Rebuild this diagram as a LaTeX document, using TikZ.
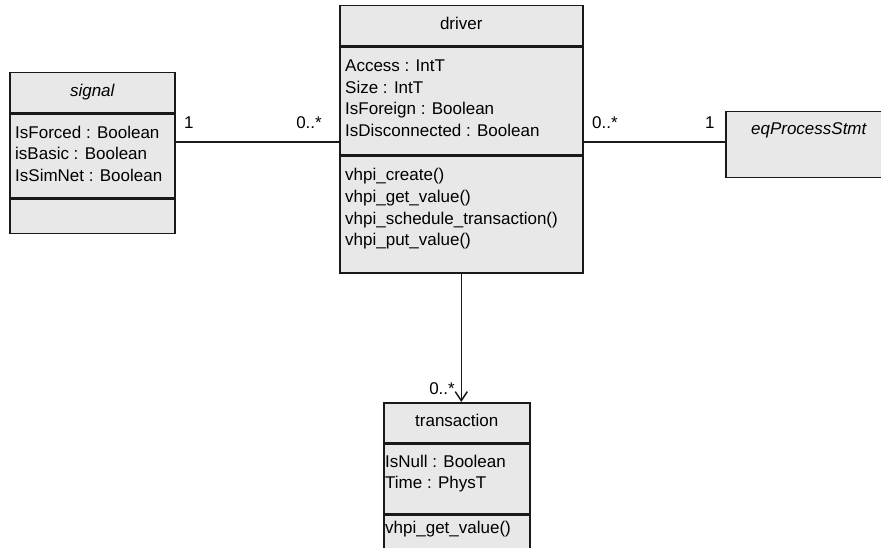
\documentclass[tikz,border=0pt]{standalone}
\usepackage{fontspec}
\setmainfont{Liberation Sans}
\usetikzlibrary{arrows.meta}

\definecolor{umlgray}{RGB}{232,232,232}
\definecolor{umlline}{RGB}{25,25,25}
\newcommand\umlfont{\fontsize{17}{21.8}\selectfont}

\begin{document}
\begin{tikzpicture}[x=1pt, y=-1pt,
    classpart/.style={draw=umlline, fill=umlgray, line width=1.5pt, anchor=north west, inner sep=0pt},
    classname/.style={inner sep=0pt, text height=12pt, text depth=4pt, font=\umlfont},
    members/.style={anchor=north west, inner sep=0pt, align=left, font=\umlfont},
    mult/.style={inner sep=0pt, font=\umlfont},
    assoc/.style={draw=umlline, line width=1.5pt}]
  \fill[white] (0,0) rectangle (881,548);
  \useasboundingbox (0,0) rectangle (881,548);
  \clip (0,0) rectangle (881,548);

  % class signal
  \node[classpart, minimum width=165pt, minimum height=40pt] (sighead) at (9,72) {};
  \node[classpart, minimum width=165pt, minimum height=84pt] (sigattr) at (sighead.south west) {};
  \node[classpart, minimum width=165pt, minimum height=34pt] (sigmeth) at (sigattr.south west) {};
  \node[classname] (signame) at (sighead) {\itshape signal};
  \node[members] (sigattrtxt) at ([shift={(6pt,-12pt)}]sigattr.north west)
    {IsForced : Boolean\\isBasic : Boolean\\IsSimNet : Boolean};

  % class driver
  \node[classpart, minimum width=243pt, minimum height=40pt] (drvhead) at (339,5) {};
  \node[classpart, minimum width=243pt, minimum height=108pt] (drvattr) at (drvhead.south west) {};
  \node[classpart, minimum width=243pt, minimum height=116pt] (drvmeth) at (drvattr.south west) {};
  \node[classname] (drvname) at (drvhead) {driver};
  \node[members] (drvattrtxt) at ([shift={(6pt,-13pt)}]drvattr.north west)
    {Access : IntT\\Size : IntT\\IsForeign : Boolean\\IsDisconnected : Boolean};
  \node[members] (drvmethtxt) at ([shift={(6pt,-12pt)}]drvmeth.north west)
    {vhpi\_create()\\vhpi\_get\_value()\\vhpi\_schedule\_transaction()\\vhpi\_put\_value()};

  % class eqProcessStmt
  \node[classpart, minimum width=166pt, minimum height=66pt] (eqbox) at (725,111) {};
  \node[classname] (eqname) at ([yshift=-20pt]eqbox.north) {\itshape eqProcessStmt};

  % class transaction
  \node[classpart, minimum width=146pt, minimum height=40pt] (trhead) at (383,402) {};
  \node[classpart, minimum width=146pt, minimum height=69pt] (trattr) at (trhead.south west) {};
  \node[classpart, minimum width=146pt, minimum height=60pt] (trmeth) at (trattr.south west) {};
  \node[classname] (trname) at (trhead) {transaction};
  \node[members] (trattrtxt) at ([shift={(2pt,-11pt)}]trattr.north west)
    {IsNull : Boolean\\Time : PhysT};
  \node[members] (trmethtxt) at ([shift={(2pt,-7pt)}]trmeth.north west)
    {vhpi\_get\_value()};

  % associations
  \draw[assoc] (sigattr.east |- 0,142) -- (drvattr.west |- 0,142);
  \draw[assoc] (drvattr.east |- 0,142) -- (eqbox.west |- 0,142);
  \draw[assoc, -{Straight Barb[length=9pt, width=12pt]}] (drvmeth.south) -- (drvmeth.south |- trhead.north);

  % multiplicities
  \node[mult, anchor=base west] (sigmult) at (184,129) {1};
  \node[mult, anchor=base east] (drvmultl) at (322,129) {0..*};
  \node[mult, anchor=base west] (drvmultr) at (592,129) {0..*};
  \node[mult, anchor=base west] (eqmult) at (705,129) {1};
  \node[mult, anchor=base east] (trmult) at (455,394) {0..*};
\end{tikzpicture}
\end{document}
